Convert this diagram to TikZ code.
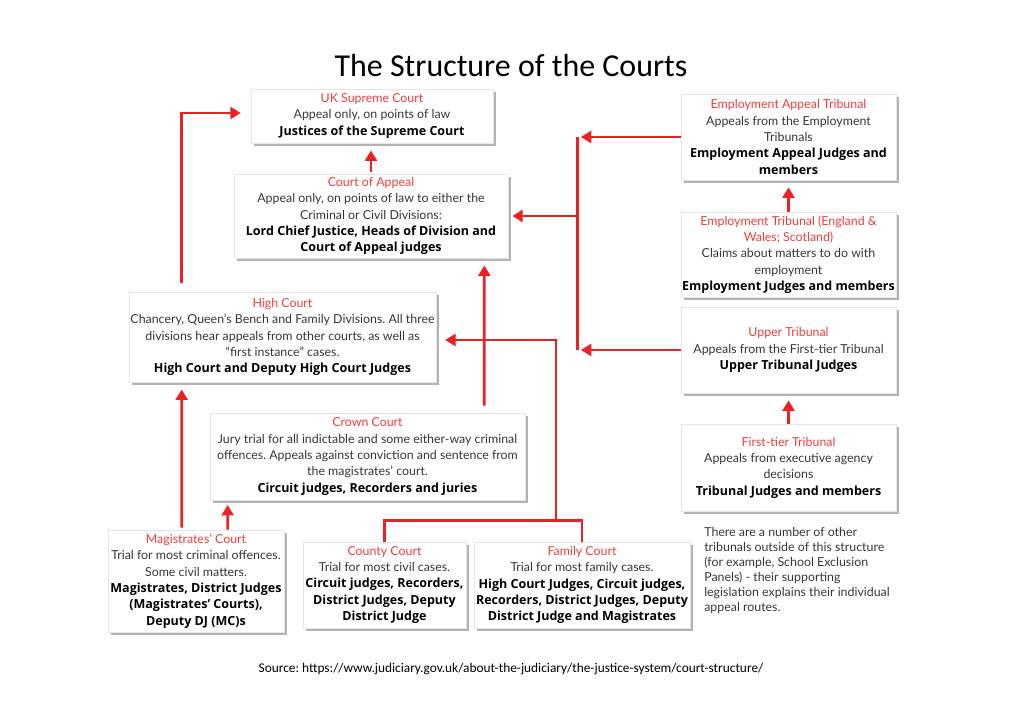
\documentclass[tikz,border=0pt]{standalone}
\usepackage{fontspec}
\setmainfont{Lato}
\newfontfamily\calfont{Carlito}
\newfontfamily\judgefont{Open Sans}
\usetikzlibrary{arrows.meta,calc,shadows}
\frenchspacing
\definecolor{headred}{RGB}{238,62,56}
\definecolor{linkred}{RGB}{236,34,34}
\definecolor{bodygray}{RGB}{55,55,55}
\newcommand{\hd}[1]{\textcolor{headred}{#1}}
\newcommand{\jdg}[1]{\textcolor{black}{\judgefont\bfseries\fontsize{8.9}{11.6}\selectfont #1}}

\begin{document}
\begin{tikzpicture}[x=0.025cm, y=-0.025cm,
    court/.style={draw=gray!20, fill=white, align=center, inner sep=1pt, text=bodygray,
      font={\fontsize{8.8}{11.6}\selectfont},
      drop shadow={shadow xshift=0.07cm, shadow yshift=-0.07cm, opacity=0.6}},
    note/.style={align=left, inner sep=0pt, text=bodygray, font={\fontsize{8.8}{10.7}\selectfont}},
    link/.style={draw=linkred, line width=2pt, -{Triangle[length=2.6mm,width=3mm]}, shorten >=0.18cm},
    bus/.style={draw=linkred, line width=2pt}
  ]
  \useasboundingbox (0,0) rectangle (1020,721);

  \node (title) at (511,66) {\calfont\fontsize{22.7}{27}\selectfont The Structure of the Courts};

  \node[court, minimum width=6.05cm, minimum height=1.35cm] (sup) at (372,116)
    {\hd{UK Supreme Court}\\Appeal only, on points of law\\\jdg{Justices of the Supreme Court}};
  \node[court, minimum width=6.85cm, minimum height=2.1cm] (coa) at (371,216)
    {\hd{Court of Appeal}\\Appeal only, on points of law to either the\\Criminal or Civil Divisions:\\
     \jdg{Lord Chief Justice, Heads of Division and}\\\jdg{Court of Appeal judges}};
  \node[court, minimum width=7.675cm, minimum height=2.25cm] (high) at (282.5,337)
    {\hd{High Court}\\Chancery, Queen’s Bench and Family Divisions. All three\\
     divisions hear appeals from other courts, as well as\\“first instance” cases.\\
     \jdg{High Court and Deputy High Court Judges}};
  \node[court, minimum width=7.875cm, minimum height=2.175cm] (crown) at (367.5,456.5)
    {\hd{Crown Court}\\Jury trial for all indictable and some either-way criminal\\
     offences. Appeals against conviction and sentence from\\the magistrates’ court.\\
     \jdg{Circuit judges, Recorders and juries}};
  \node[court, minimum width=4.4cm, minimum height=2.55cm] (mag) at (196,581)
    {\hd{Magistrates’ Court}\\Trial for most criminal offences.\\Some civil matters.\\
     \jdg{Magistrates, District Judges}\\\jdg{(Magistrates’ Courts),}\\\jdg{Deputy DJ (MC)s}};
  \node[court, minimum width=4.075cm, minimum height=2.15cm] (county) at (384.5,585)
    {\hd{County Court}\\Trial for most civil cases.\\\jdg{Circuit judges, Recorders,}\\
     \jdg{District Judges, Deputy}\\\jdg{District Judge}};
  \node[court, minimum width=5.4cm, minimum height=2.15cm] (family) at (582,585)
    {\hd{Family Court}\\Trial for most family cases.\\\jdg{High Court Judges, Circuit judges,}\\
     \jdg{Recorders, District Judges, Deputy}\\\jdg{District Judge and Magistrates}};

  \node[court, minimum width=5.375cm, minimum height=2.15cm] (eat) at (788.5,137)
    {\hd{Employment Appeal Tribunal}\\Appeals from the Employment\\Tribunals\\
     \jdg{Employment Appeal Judges and}\\\jdg{members}};
  \node[court, minimum width=5.375cm, minimum height=2.125cm] (et) at (788.5,254.5)
    {\hd{Employment Tribunal (England \&}\\\hd{Wales; Scotland)}\\Claims about matters to do with\\
     employment\\\jdg{Employment Judges and members}};
  \node[court, minimum width=5.375cm, minimum height=2.15cm] (ut) at (788.5,350)
    {\hd{Upper Tribunal}\\Appeals from the First-tier Tribunal\\\jdg{Upper Tribunal Judges}};
  \node[court, minimum width=5.375cm, minimum height=2.175cm] (ftt) at (788.5,467.5)
    {\hd{First-tier Tribunal}\\Appeals from executive agency\\decisions\\
     \jdg{Tribunal Judges and members}};

  \node[note, anchor=north west] (other) at (704,527)
    {There are a number of other\\tribunals outside of this structure\\(for example, School Exclusion\\
     Panels) - their supporting\\legislation explains their individual\\appeal routes.};

  \node (source) at (511,669) {\calfont\fontsize{9.5}{11}\selectfont
    Source: https://www.judiciary.gov.uk/about-the-judiciary/the-justice-system/court-structure/};

  \draw[link, shorten <=0.05cm] ($(mag.north west)+(74,0)$) -- ($(high.south west)+(53,0)$);
  \draw[link, shorten >=0.12cm] ($(mag.north west)+(120,0)$) -- ($(crown.south west)+(18,0)$);
  \draw[link, shorten <=0.22cm, shorten >=0.25cm] ($(high.north west)+(53,0)$) |- ($(sup.west)+(0,-3)$);
  \draw[link, shorten <=0.05cm] (coa.north) -- (coa.north |- sup.south);
  \draw[link, shorten <=0.18cm] ($(crown.north east)+(-41,0)$) -- ($(coa.south east)+(-24,0)$);

  \coordinate (join) at ($(county.north)+(171.5,-21)$);
  \draw[bus] (county.north) -- ++(0,-21) -| (family.north);
  \draw[link, shorten >=0.22cm] (join) |- ($(high.east)+(0,3)$);

  \coordinate (bustop) at ($(eat.west)+(-103,0)$);
  \coordinate (busbot) at (ut.west -| bustop);
  \draw[bus] (bustop) -- (busbot);
  \draw[link, shorten >=0.08cm] (eat.west) -- (bustop);
  \draw[link, shorten >=0.08cm] (ut.west) -- (busbot);
  \draw[link, shorten >=0.1cm] (bustop |- coa.east) -- (coa.east);

  \draw[link] (et.north) -- (eat.south);
  \draw[link] (ftt.north) -- (ut.south);
\end{tikzpicture}
\end{document}
